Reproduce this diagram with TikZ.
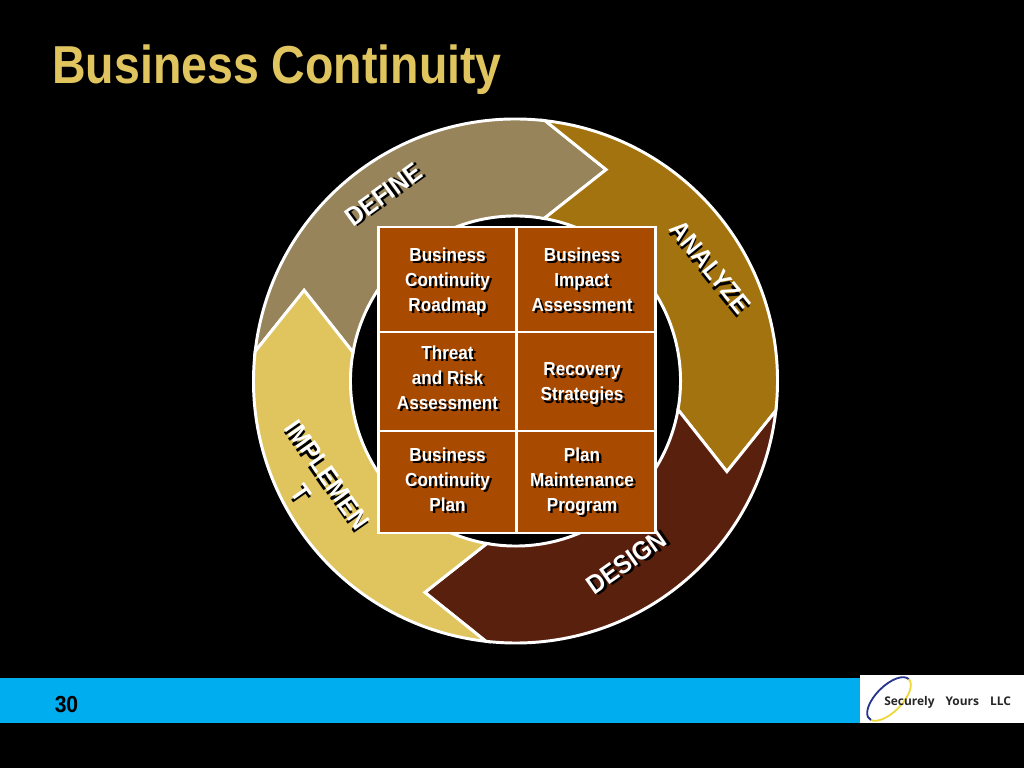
\documentclass[tikz,border=0pt]{standalone}
\usepackage{fontspec}
\setmainfont{Liberation Sans}[FakeStretch=0.91]
\newfontfamily\titlefont{Liberation Sans}[FakeStretch=0.87]
\newfontfamily\logofont{Open Sans}
\definecolor{titlegold}{HTML}{E0C55F}
\definecolor{definecol}{HTML}{97845A}
\definecolor{analyzecol}{HTML}{A3730F}
\definecolor{designcol}{HTML}{5A200E}
\definecolor{implementcol}{HTML}{E0C55F}
\definecolor{cellcol}{HTML}{A84A00}
\definecolor{barblue}{HTML}{00AEEF}
\definecolor{logoblue}{HTML}{26368C}
\definecolor{logoyellow}{HTML}{EDD83C}
% white text with a hard black drop shadow
\newcommand{\shtext}[1]{\leavevmode\rlap{\kern1.7pt\raisebox{-1.7pt}{\color{black}\begin{tabular}{@{}c@{}}#1\end{tabular}}}{\color{white}\begin{tabular}{@{}c@{}}#1\end{tabular}}}
% same, moved off the middle of its box: {twice x to the left}{y}{text}
\newcommand{\nudged}[3]{\raisebox{#2}[\height][\depth]{\shtext{#3}}\kern#1}
\tikzset{
  segment/.style={draw=white,line width=2.1pt,line join=miter},
  cell/.style={draw=white,line width=2.1pt,fill=cellcol,inner sep=0pt,minimum width=3.45cm,font=\fontsize{13.4}{17.7}\selectfont\bfseries,align=center},
  ringlabel/.style={inner sep=0pt,font=\fontsize{18.6}{20}\selectfont\bfseries}
}
\begin{document}
\begin{tikzpicture}[x=0.025cm,y=0.025cm]
 \useasboundingbox (0,0) rectangle (1024,768);
 \fill[black] (0,0) rectangle (1024,768);

 \node[anchor=west,inner sep=0pt,text=titlegold,font=\titlefont\fontsize{38}{40}\selectfont\bfseries] (title) at (52,698) {Business Continuity};

 % the ring
 \begin{scope}[shift={(515.5,387)}]
 \foreach \rot/\col in {0/definecol,-90/analyzecol,-180/designcol,-270/implementcol}{
  \begin{scope}[rotate=\rot]
  \draw[segment,fill=\col] (173.5:262) arc[start angle=173.5,end angle=83.5,radius=262]
    -- (66.8:230) -- (80:165) arc[start angle=80,end angle=170,radius=165] -- (156.8:230) -- cycle;
  \end{scope}
 }
 \end{scope}

 \node[ringlabel,rotate=36] (define) at (386,570) {\shtext{DEFINE}};
 \node[ringlabel,rotate=-51] (analyze) at (707,498) {\shtext{ANALYZE}};
 \node[ringlabel,rotate=35] (design) at (629,202) {\shtext{DESIGN}};
 \node[ringlabel,rotate=-55,font=\fontsize{18.6}{23}\selectfont\bfseries] (implement) at (311,282) {\shtext{IMPLEMEN\\T}};

 % the six boxes
 \node[cell,minimum height=2.625cm] (roadmap) at (447.5,488.5) {\nudged{0pt}{-2.1pt}{Business\\Continuity\\Roadmap}};
 \node[cell,minimum height=2.625cm] (impact) at (586,488.5) {\nudged{5.6pt}{-2.1pt}{Business\\Impact\\Assessment}};
 \node[cell,minimum height=2.475cm] (threat) at (447.5,386.5) {\nudged{0pt}{0.7pt}{Threat\\and Risk\\Assessment}};
 \node[cell,minimum height=2.475cm] (recovery) at (586,386.5) {\nudged{5.6pt}{-2.1pt}{Recovery\\Strategies}};
 \node[cell,minimum height=2.55cm] (plan) at (447.5,286) {\nudged{0pt}{-0.4pt}{Business\\Continuity\\Plan}};
 \node[cell,minimum height=2.55cm] (program) at (586,286) {\nudged{5.6pt}{-0.4pt}{Plan\\Maintenance\\Program}};

 % footer
 \fill[barblue] (0,45) rectangle (860,90);
 \fill[white] (860,45) rectangle (1024,93);
 \node[inner sep=0pt,font=\fontsize{16.5}{18}\selectfont\bfseries] (pageno) at (66.5,63) {30};
 \draw[logoblue,line width=1.3pt,rotate around={45:(889,69)}] (889+28,69) arc[start angle=0,end angle=190,x radius=28,y radius=13];
 \draw[logoyellow,line width=1.3pt,rotate around={45:(889,69)}] (889+28,69) arc[start angle=0,end angle=-170,x radius=28,y radius=13];
 \node[anchor=west,inner sep=0pt,text=black!85,font=\logofont\fontsize{8.5}{11}\selectfont\bfseries] (logo) at (884,66) {Securely\hspace{7.8pt}Yours\hspace{7.8pt}LLC};
\end{tikzpicture}
\end{document}
